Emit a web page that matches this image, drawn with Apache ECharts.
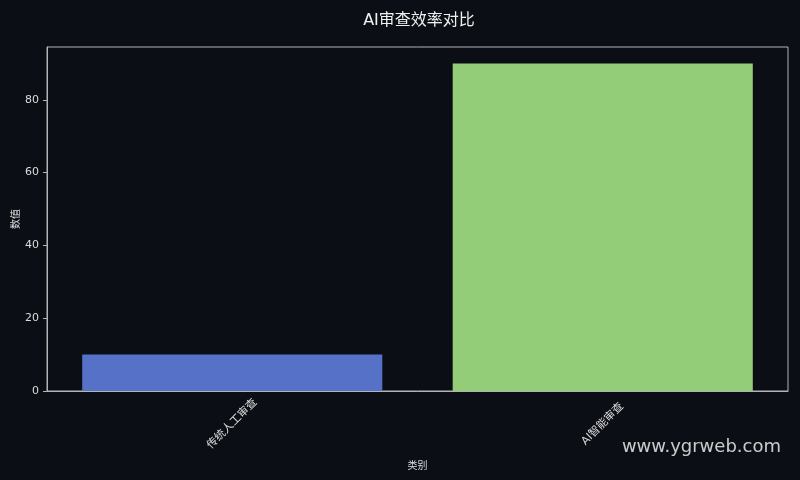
<!DOCTYPE html>
<html>
<head>
<meta charset="utf-8">
<title>AI审查效率对比</title>
<script src="https://cdn.jsdelivr.net/npm/echarts@6/dist/echarts.min.js"></script>
<style>
    html, body { margin: 0; padding: 0; background: #0b0e14; }
    #chart { width: 800px; height: 480px; }
</style>
</head>
<body>
<div id="chart"></div>
<script>
// 数据
var categories = ['传统人工审查', 'AI智能审查'];
var values = [10, 90];
var barColors = ['#5572c8', '#93cd78'];
var yTicks = [0, 20, 40, 60, 80];
var yMax = 94.5;

(function() {
    var font = "'DejaVu Sans', 'Noto Sans CJK SC', sans-serif";
    var textColor = '#dcdcdc';
    var lineColor = '#b4b4b4';

    var option = {
        backgroundColor: '#0b0e14',
        animation: false,
        title: {
            text: 'AI审查效率对比',
            left: 414,
            top: 8,
            textAlign: 'center',
            textStyle: {
                color: '#f0f0f0',
                fontSize: 16,
                fontWeight: 'normal',
                fontFamily: font
            }
        },
        grid: {
            left: 47,
            right: 12,
            top: 47,
            bottom: 89,
            show: true,
            borderColor: lineColor,
            borderWidth: 1,
            containLabel: false,
            outerBoundsMode: 'none'
        },
        xAxis: {
            type: 'category',
            data: categories,
            name: '类别',
            nameLocation: 'middle',
            nameGap: 70,
            nameMoveOverlap: false,
            nameTextStyle: { color: textColor, fontSize: 10, fontFamily: font },
            axisLine: { lineStyle: { color: lineColor } },
            axisTick: { alignWithLabel: true, length: 4, lineStyle: { color: lineColor } },
            axisLabel: {
                color: textColor,
                fontSize: 11,
                fontFamily: font,
                rotate: 45,
                align: 'center',
                verticalAlign: 'middle',
                margin: 33
            },
            splitLine: { show: false }
        },
        yAxis: {
            type: 'value',
            min: 0,
            max: yMax,
            name: '数值',
            nameLocation: 'middle',
            nameGap: 26,
            nameMoveOverlap: false,
            nameRotate: 90,
            nameTextStyle: { color: textColor, fontSize: 10, fontFamily: font },
            axisLine: { show: true, lineStyle: { color: lineColor } },
            axisTick: { show: true, length: 4, customValues: yTicks, lineStyle: { color: lineColor } },
            axisLabel: {
                color: textColor,
                fontSize: 11,
                fontFamily: font,
                margin: 8,
                customValues: yTicks
            },
            splitLine: { show: false }
        },
        series: [{
            type: 'bar',
            barWidth: '81%',
            data: values.map(function(v, i) {
                return { value: v, itemStyle: { color: barColors[i] } };
            })
        }],
        graphic: [{
            type: 'text',
            right: 19,
            top: 438,
            style: {
                text: 'www.ygrweb.com',
                fill: 'rgba(235,235,235,0.85)',
                font: "18px 'DejaVu Sans', sans-serif"
            }
        }]
    };

    var myChart = echarts.init(document.getElementById('chart'));
    myChart.setOption(option);
})();
</script>
</body>
</html>
